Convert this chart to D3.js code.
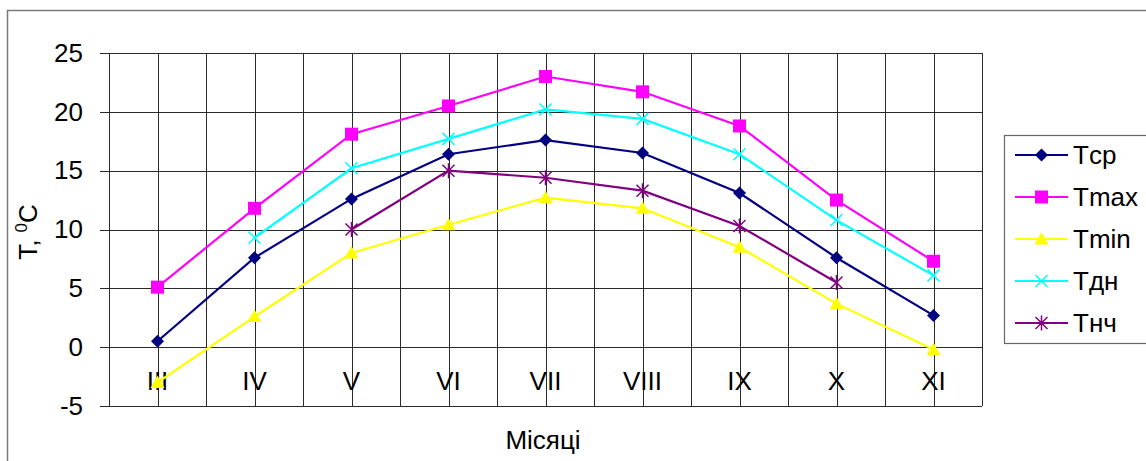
<!DOCTYPE html>
<html>
<head>
<meta charset="utf-8">
<script src="https://cdn.jsdelivr.net/npm/d3@7"></script>
<style>
  html, body { margin: 0; padding: 0; background: #fff; }
  svg { display: block; font-family: "Liberation Sans", Arial, sans-serif; }
</style>
</head>
<body>
<svg id="chart" width="1146" height="461"></svg>
<script>
// Months (Roman numerals) and monthly temperatures, °C
const months = ["III", "IV", "V", "VI", "VII", "VIII", "IX", "X", "XI"];
const tSr   = [0.5, 7.6, 12.6, 16.4, 17.6, 16.5, 13.1, 7.6, 2.7];
const tMax  = [5.1, 11.8, 18.1, 20.5, 23.0, 21.7, 18.8, 12.5, 7.3];
const tMin  = [-3.0, 2.6, 8.0, 10.4, 12.7, 11.8, 8.5, 3.7, -0.2];
const tDn   = [null, 9.3, 15.2, 17.7, 20.2, 19.4, 16.4, 10.8, 6.1];
const tNch  = [null, null, 10.0, 15.0, 14.4, 13.3, 10.3, 5.5, null];
const yTicks = [-5, 0, 5, 10, 15, 20, 25];

const series = [
  { name: "Tср",  values: tSr,  color: "#000080", marker: "diamond" },
  { name: "Tmax", values: tMax, color: "#FF00FF", marker: "square" },
  { name: "Tmin", values: tMin, color: "#FFFF00", marker: "triangle" },
  { name: "Tдн",  values: tDn,  color: "#00FFFF", marker: "cross" },
  { name: "Tнч",  values: tNch, color: "#800080", marker: "star" }
];

const svg = d3.select("#chart");
const plot = { left: 109, right: 982, top: 53, bottom: 406 };
const FONT = 26;

// Outer chart frame (extends past the visible window on the right/bottom)
svg.append("rect")
  .attr("x", 7.5).attr("y", 10.5).attr("width", 1160).attr("height", 470)
  .attr("fill", "none").attr("stroke", "#7a7a7a").attr("stroke-width", 1.5);

const x = d3.scaleBand().domain(months).range([plot.left, plot.right]).padding(0);
const y = d3.scaleLinear().domain([-5, 25]).range([plot.bottom, plot.top]);
const cx = m => x(m) + x.bandwidth() / 2;

const grid = svg.append("g").attr("stroke", "#2a2a2a").attr("stroke-width", 1).attr("shape-rendering", "crispEdges");
// horizontal gridlines (with ticks out to the left)
grid.selectAll("line.h").data(yTicks).join("line")
  .attr("x1", plot.left - 9).attr("x2", plot.right)
  .attr("y1", d => Math.round(y(d)) + 0.5).attr("y2", d => Math.round(y(d)) + 0.5);
// vertical gridlines at category boundaries and centres
const vx = [];
months.forEach(m => { vx.push(x(m)); vx.push(cx(m)); });
vx.push(plot.right);
grid.selectAll("line.v").data(vx).join("line")
  .attr("x1", d => Math.round(d) + 0.5).attr("x2", d => Math.round(d) + 0.5)
  .attr("y1", plot.top).attr("y2", plot.bottom);

// Y axis labels (plain hyphen for negatives)
const yAxis = d3.axisLeft(y).tickValues(yTicks).tickSize(9).tickPadding(17).tickFormat(d => String(d));
const gy = svg.append("g").attr("transform", `translate(${plot.left},0)`).call(yAxis);
gy.select(".domain").remove();
gy.selectAll(".tick line").remove();
gy.selectAll("text").attr("font-size", FONT).attr("fill", "#000").attr("font-family", "Liberation Sans, Arial, sans-serif");

// X axis labels, set on the zero line
const xAxis = d3.axisBottom(x).tickSize(0).tickPadding(24);
const gx = svg.append("g").attr("transform", `translate(0,${y(0)})`).call(xAxis);
gx.select(".domain").remove();
gx.selectAll("text").attr("font-size", FONT).attr("fill", "#000").attr("font-family", "Liberation Sans, Arial, sans-serif");

// Axis titles
svg.append("text").attr("x", 543).attr("y", 449).attr("text-anchor", "middle")
  .attr("font-size", FONT).text("Місяці");
const yt = svg.append("text").attr("transform", "translate(37,232) rotate(-90)")
  .attr("text-anchor", "middle").attr("font-size", FONT);
yt.append("tspan").text("T, ");
yt.append("tspan").attr("font-size", 17).attr("dy", -10).text("0");
yt.append("tspan").attr("dy", 10).text("C");

// Marker shapes
function markerPath(type) {
  switch (type) {
    case "diamond": return "M0,-6.5L6.5,0L0,6.5L-6.5,0Z";
    case "square": return "M-6.5,-6.5H6.5V6.5H-6.5Z";
    case "triangle": return "M0,-7L7,5.5L-7,5.5Z";
    case "cross": return "M-6,-6L6,6M-6,6L6,-6";
    case "star": return "M-6,-6L6,6M-6,6L6,-6M0,-7.5V7.5";
  }
}
function drawMarker(g, type, color) {
  const filled = type === "diamond" || type === "square" || type === "triangle";
  g.append("path").attr("d", markerPath(type))
    .attr("fill", filled ? color : "none")
    .attr("stroke", color).attr("stroke-width", filled ? 0 : 1.5);
}

const line = d3.line().defined(d => d.v != null).x(d => cx(d.m)).y(d => y(d.v));

series.forEach(s => {
  const pts = months.map((m, i) => ({ m, v: s.values[i] }));
  svg.append("path").datum(pts).attr("d", line)
    .attr("fill", "none").attr("stroke", s.color).attr("stroke-width", 2.2);
  pts.filter(d => d.v != null).forEach(d => {
    const g = svg.append("g").attr("transform", `translate(${cx(d.m)},${y(d.v)})`);
    drawMarker(g, s.marker, s.color);
  });
});

// Legend
const lg = svg.append("g");
lg.append("rect").attr("x", 1004.5).attr("y", 135.5).attr("width", 200).attr("height", 208)
  .attr("fill", "#fff").attr("stroke", "#666").attr("stroke-width", 1.2);
const ly = d3.scalePoint().domain(series.map(s => s.name)).range([155, 323]);
series.forEach(s => {
  const yy = ly(s.name);
  lg.append("line").attr("x1", 1015).attr("x2", 1068).attr("y1", yy).attr("y2", yy)
    .attr("stroke", s.color).attr("stroke-width", 2.2);
  const g = lg.append("g").attr("transform", `translate(1041.5,${yy})`);
  drawMarker(g, s.marker, s.color);
  lg.append("text").attr("x", 1073).attr("y", yy).attr("dy", "0.35em")
    .attr("font-size", FONT).text(s.name);
});
</script>
</body>
</html>
